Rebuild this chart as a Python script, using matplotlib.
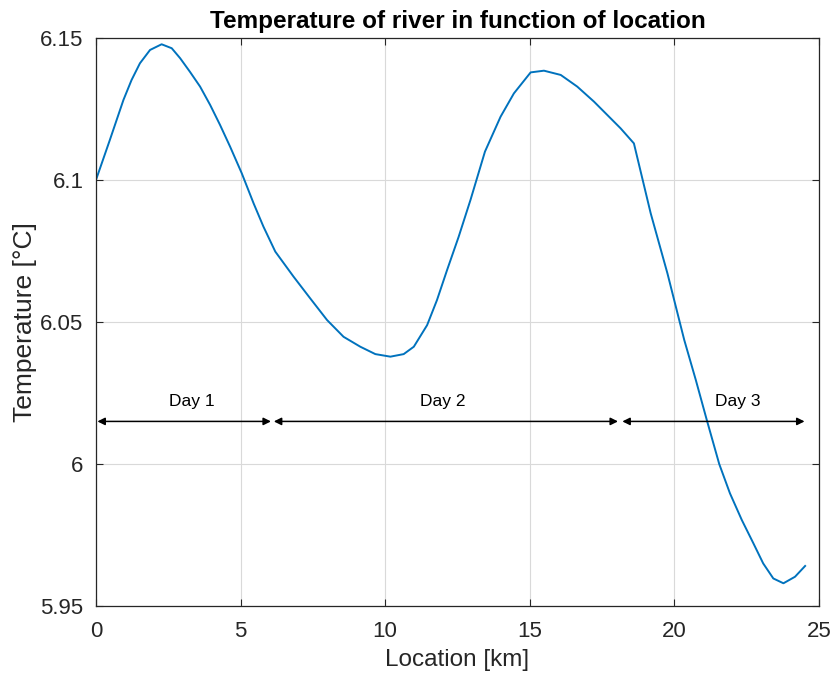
import matplotlib
matplotlib.use('Agg')
import matplotlib.pyplot as plt

plt.rcParams['font.family'] = ['Liberation Sans', 'DejaVu Sans']

# Courbe (km, °C)
location = [0.02, 0.48, 0.95, 1.23, 1.52, 1.87, 2.27, 2.62, 2.91, 3.25, 3.6, 3.95,
            4.29, 4.64, 5.04, 5.45, 5.79, 6.2, 6.83, 7.41, 7.99, 8.56, 9.14, 9.66,
            10.18, 10.64, 10.99, 11.45, 11.79, 12.14, 12.54, 12.95, 13.45, 13.99,
            14.45, 15.03, 15.49, 16.07, 16.64, 17.22, 17.68, 18.14, 18.6, 19.18,
            19.76, 20.34, 20.74, 21.12, 21.55, 21.92, 22.33, 22.73, 23.07, 23.42,
            23.77, 24.17, 24.52]
temperature = [6.1006, 6.1141, 6.1282, 6.1352, 6.1411, 6.1458, 6.1478, 6.1464, 6.1429,
               6.1381, 6.1329, 6.1264, 6.1194, 6.1117, 6.1024, 6.0918, 6.0836, 6.0748,
               6.0660, 6.0583, 6.0507, 6.0448, 6.0413, 6.0387, 6.0378, 6.0387, 6.0413,
               6.0489, 6.0577, 6.0683, 6.0800, 6.0930, 6.1100, 6.1223, 6.1305, 6.1379,
               6.1385, 6.1370, 6.1329, 6.1276, 6.1229, 6.1182, 6.1129, 6.0883, 6.0671,
               6.0437, 6.0296, 6.0155, 6.0000, 5.9897, 5.9803, 5.9721, 5.9650, 5.9597,
               5.9580, 5.9603, 5.9641]

# Flèches des jours
jours = ['Day 1', 'Day 2', 'Day 3']
debut_jour = [0.05, 6.15, 18.2]
fin_jour = [6.05, 18.05, 24.5]
texte_x = [3.3, 12.0, 22.2]
fleche_y = 6.015
texte_y = 6.0195

fig = plt.figure(figsize=(8.33, 6.79), dpi=100)
ax = fig.add_axes([0.1152, 0.1075, 0.8680, 0.8365])

ax.plot(location, temperature, color='#0072BD', linewidth=1.4)

for nom, a, b, tx in zip(jours, debut_jour, fin_jour, texte_x):
    ax.annotate('', xy=(b, fleche_y), xytext=(a, fleche_y),
                arrowprops=dict(arrowstyle='<|-|>', color='black', lw=1.1,
                                mutation_scale=11, shrinkA=0, shrinkB=0))
    ax.text(tx, texte_y, nom, ha='center', va='bottom', fontsize=12.5, color='black')

ax.set_xlim(0, 25)
ax.set_ylim(5.95, 6.15)
ax.set_xticks([0, 5, 10, 15, 20, 25])
ax.set_yticks([5.95, 6.0, 6.05, 6.1, 6.15])
ax.set_yticklabels(['5.95', '6', '6.05', '6.1', '6.15'])

gris = '#262626'
ax.tick_params(direction='in', top=True, right=True, length=5, width=0.8,
               colors=gris, labelsize=16)
ax.tick_params(axis='x', pad=11)
ax.tick_params(axis='y', pad=9)
for s in ax.spines.values():
    s.set_color(gris)
    s.set_linewidth(0.9)
ax.grid(True, color='#d9d9d9', linewidth=0.8)
ax.set_axisbelow(True)

ax.set_xlabel('Location [km]', fontsize=17.5, color=gris, labelpad=5)
ax.set_ylabel('Temperature [°C]', fontsize=19, color=gris, labelpad=2)
ax.set_title('Temperature of river in function of location', fontsize=17.5,
             fontweight='bold', color='black', pad=7)

fig.savefig('out.png', dpi=100)
